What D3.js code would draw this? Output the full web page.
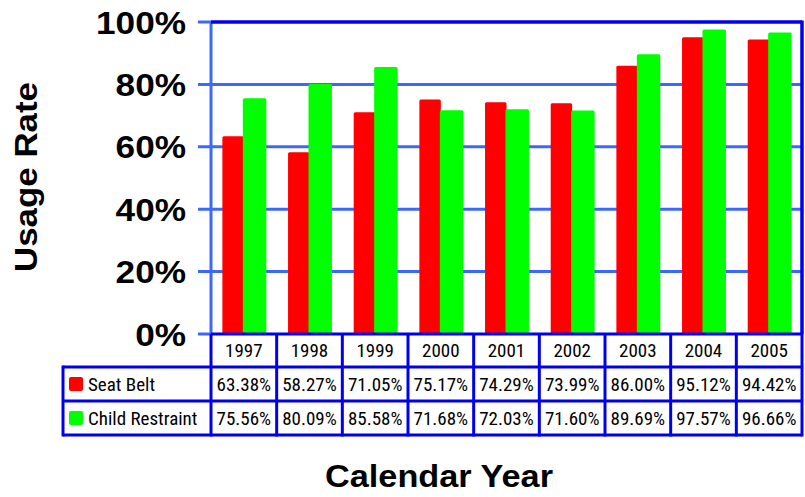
<!DOCTYPE html>
<html><head><meta charset="utf-8">
<script src="https://cdn.jsdelivr.net/npm/d3@7"></script>
<style>body{margin:0;background:#fff}svg{display:block}</style>
</head><body>
<svg id="c" width="805" height="497"></svg>
<script>
const years = ["1997","1998","1999","2000","2001","2002","2003","2004","2005"];
const seatBelt = [63.38,58.27,71.05,75.17,74.29,73.99,86.00,95.12,94.42];
const childRestraint = [75.56,80.09,85.58,71.68,72.03,71.60,89.69,97.57,96.66];
const seriesNames = ["Seat Belt","Child Restraint"];
const seriesColors = ["#ff0000","#00ff00"];
const yTicks = [0,20,40,60,80,100];

const svg = d3.select("#c");
const L=211, R=802, T=22, B=334;
const x = d3.scaleBand().domain(years).range([L,R]);
const y = d3.scaleLinear().domain([0,100]).range([B,T]);
const narrow = "'Liberation Sans Narrow','Arial Narrow','Roboto Condensed',sans-serif";
const bold = "'Liberation Sans',Arial,Helvetica,sans-serif";
const gridC = "#3d68ff", darkB = "#0000f0";

// gridlines
svg.append("g").selectAll("line").data(yTicks.filter(d=>d>0&&d<100)).join("line")
  .attr("x1",198).attr("x2",R).attr("y1",d=>y(d)).attr("y2",d=>y(d))
  .attr("stroke",gridC).attr("stroke-width",3);
svg.append("line").attr("x1",198).attr("x2",L).attr("y1",y(0)).attr("y2",y(0)).attr("stroke",gridC).attr("stroke-width",3);
svg.append("line").attr("x1",198).attr("x2",L).attr("y1",y(100)).attr("y2",y(100)).attr("stroke",gridC).attr("stroke-width",3);
svg.append("line").attr("x1",L).attr("x2",L).attr("y1",T).attr("y2",B).attr("stroke",gridC).attr("stroke-width",3);

// bars
const xs = d3.scaleBand().domain([0,1]).range([0,x.bandwidth()]).paddingInner(0).paddingOuter(0.53);
const data = [seatBelt, childRestraint];
data.forEach((arr,si)=>{
  svg.append("g").selectAll("rect").data(arr).join("rect")
    .attr("x",(d,i)=>x(years[i])+xs(si)+(si===0?0:-1))
    .attr("width",xs.bandwidth()+(si===0?0:2))
    .attr("y",d=>y(d)).attr("height",d=>B-y(d))
    .attr("rx",1.5)
    .attr("fill",seriesColors[si]);
});

// top & right border
svg.append("line").attr("x1",L).attr("x2",R).attr("y1",T).attr("y2",T).attr("stroke",darkB).attr("stroke-width",3.5);
svg.append("line").attr("x1",R).attr("x2",R).attr("y1",T-1.5).attr("y2",B).attr("stroke",darkB).attr("stroke-width",3.5);

// y labels
svg.append("g").selectAll("text").data(yTicks).join("text")
  .attr("transform",d=>`translate(186,${y(d)}) scale(1.1,1)`).attr("dy","0.36em")
  .attr("text-anchor","end").attr("font-family",bold)
  .attr("font-weight","bold").attr("font-size",32).text(d=>d+"%");

svg.append("text").attr("transform","translate(37,177) rotate(-90)")
  .attr("text-anchor","middle").attr("font-family",bold)
  .attr("font-weight","bold").attr("font-size",32)
  .attr("textLength",190).attr("lengthAdjust","spacingAndGlyphs").text("Usage Rate");
svg.append("text").attr("x",439).attr("y",487)
  .attr("text-anchor","middle").attr("font-family",bold)
  .attr("font-weight","bold").attr("font-size",31)
  .attr("textLength",228).attr("lengthAdjust","spacingAndGlyphs").text("Calendar Year");

// table
const rowY = [B, 367, 401, 435];
const LL = 63;
const fs = 19;
const tg = svg.append("g");
tg.append("line").attr("x1",L).attr("x2",R).attr("y1",rowY[0]).attr("y2",rowY[0]).attr("stroke",darkB).attr("stroke-width",3);
[1,2,3].forEach(k=>tg.append("line").attr("x1",LL).attr("x2",R).attr("y1",rowY[k]).attr("y2",rowY[k]).attr("stroke",darkB).attr("stroke-width",3));
const vx = years.map(d=>x(d)).concat([R]);
tg.selectAll("line.v").data(vx).join("line").attr("class","v")
  .attr("x1",d=>d).attr("x2",d=>d).attr("y1",rowY[0]).attr("y2",rowY[3]+1.5)
  .attr("stroke",darkB).attr("stroke-width",3);
tg.append("line").attr("x1",LL).attr("x2",LL).attr("y1",rowY[1]-1.5).attr("y2",rowY[3]+1.5).attr("stroke",darkB).attr("stroke-width",3);

tg.selectAll("text.yr").data(years).join("text").attr("class","yr")
  .attr("x",d=>x(d)+x.bandwidth()/2).attr("y",(rowY[0]+rowY[1])/2).attr("dy","0.36em")
  .attr("text-anchor","middle").attr("font-family",narrow).attr("font-size",fs).text(d=>d);
data.forEach((arr,si)=>{
  const cy=(rowY[si+1]+rowY[si+2])/2;
  tg.append("g").selectAll("text").data(arr).join("text")
    .attr("x",(d,i)=>x(years[i])+x.bandwidth()/2).attr("y",cy).attr("dy","0.36em")
    .attr("text-anchor","middle").attr("font-family",narrow).attr("font-size",fs).text(d=>d.toFixed(2)+"%");
  tg.append("rect").attr("x",69).attr("y",cy-7).attr("width",14).attr("height",14).attr("rx",2).attr("fill",seriesColors[si]);
  tg.append("text").attr("x",88).attr("y",cy).attr("dy","0.36em")
    .attr("font-family",narrow).attr("font-size",fs).text(seriesNames[si]);
});
</script>
</body></html>
